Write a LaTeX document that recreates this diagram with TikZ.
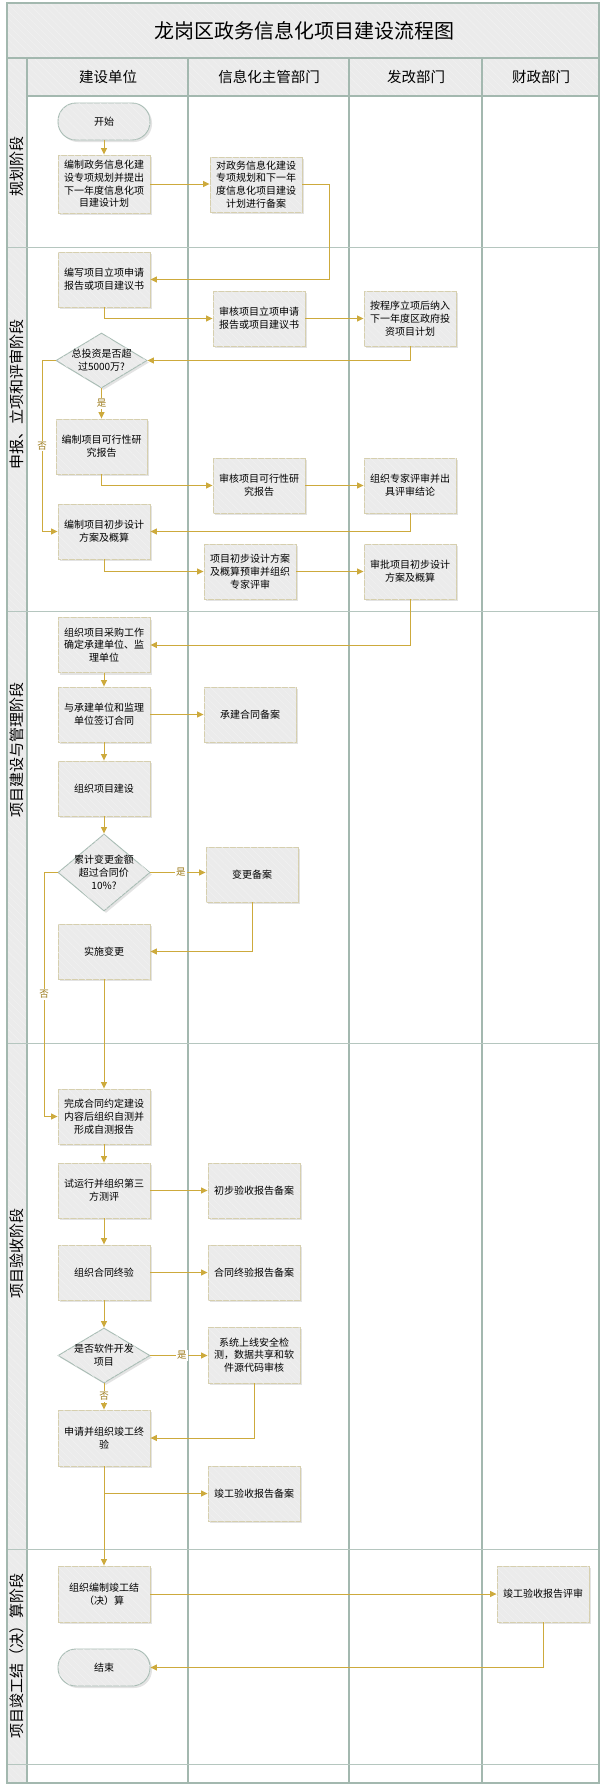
\documentclass[tikz,border=0pt]{standalone}
\usepackage{fontspec}
\setmainfont{Noto Sans CJK SC}
\usetikzlibrary{arrows.meta,shapes.geometric,shadows,patterns.meta}
\definecolor{framec}{HTML}{A3B8AF}
\definecolor{headfill}{HTML}{EBEBEB}
\definecolor{boxfill}{HTML}{EBEBEB}
\definecolor{hatchc}{HTML}{F2F2F2}
\definecolor{boxdraw}{HTML}{D6CFAE}
\definecolor{termdraw}{HTML}{A9BDB5}
\definecolor{connc}{HTML}{CDAA3C}
\definecolor{labc}{HTML}{9C7A1A}
\newcommand\bxf{\fontsize{10}{12.7}\selectfont}
\newcommand\ynf{\fontsize{9.5}{11}\selectfont}
\begin{document}
\begin{tikzpicture}[x=1pt,y=-1pt,
  hatch/.style={postaction={pattern={Lines[angle=-45,distance=5pt,line width=0.4pt]},pattern color=hatchc}},
  shd/.style={drop shadow={shadow xshift=2pt,shadow yshift=-2pt,opacity=0.22}},
  box/.style={rectangle,draw=boxdraw,line width=0.9pt,fill=boxfill,minimum width=92pt,minimum height=55pt,inner sep=1pt,align=center,font=\bxf,shd,hatch},
  term/.style={rectangle,rounded corners=18pt,draw=termdraw,line width=0.9pt,fill=boxfill,minimum width=92pt,minimum height=37pt,font=\bxf,shd,hatch},
  dia/.style={diamond,draw=termdraw,line width=0.9pt,fill=boxfill,inner sep=0pt,shd,hatch},
  dtext/.style={align=center,font=\bxf,inner sep=0pt},
  conn/.style={draw=connc,line width=0.9pt,-{Triangle[length=6.5pt,width=6pt]}},
  yn/.style={font=\ynf,text=labc,fill=white,inner sep=1pt},
  frame/.style={draw=framec,line width=1.2pt},
  phase/.style={font=\fontsize{15}{18}\selectfont,rotate=90},
  head/.style={font=\fontsize{14.5}{17}\selectfont}]
\useasboundingbox (0,0) rectangle (606,1792);
% backgrounds
\fill[white] (7,3) rectangle (599,1783);
\path[fill=headfill,hatch] (7,3) rectangle (599,58);
\path[fill=headfill,hatch] (27,58) rectangle (599,96);
\path[fill=headfill,hatch] (7,58) rectangle (27,1783);
% grid
\draw[frame] (7,58) -- (599,58);
\draw[frame] (27,96) -- (599,96);
\draw[frame] (27,58) -- (27,1783);
\foreach \cx in {188,349,482} \draw[frame] (\cx,58) -- (\cx,1783);
\foreach \ry in {247,611,1043,1549,1764} \draw[frame,line width=1pt,draw=framec!80] (7,\ry) -- (599,\ry);
\draw[frame] (7,3) rectangle (599,1783);
% title and headers
\node[font=\fontsize{20}{24}\selectfont] (title) at (304,31) {龙岗区政务信息化项目建设流程图};
\node[head] (h1) at (108,77) {建设单位};
\node[head] (h2) at (269,77) {信息化主管部门};
\node[head] (h3) at (416,77) {发改部门};
\node[head] (h4) at (541,77) {财政部门};
\node[phase] (p1) at (17,166) {规划阶段};
\node[phase] (p2) at (17,394) {申报、立项和评审阶段};
\node[phase] (p3) at (17,750) {项目建设与管理阶段};
\node[phase] (p4) at (17,1253) {项目验收阶段};
\node[phase] (p5) at (17,1656) {项目竣工结（决）算阶段};
% nodes
\node[term] (start) at (104,121.5) {开始};
\node[box,minimum height=58pt] (b1) at (104,184) {编制政务信息化建\\设专项规划并提出\\下一年度信息化项\\目建设计划};
\node[box] (b2) at (256,184.5) {对政务信息化建设\\专项规划和下一年\\度信息化项目建设\\计划进行备案};
\node[box] (b3) at (104,279.5) {编写项目立项申请\\报告或项目建议书};
\node[box] (b4) at (259,318.5) {审核项目立项申请\\报告或项目建议书};
\node[box] (b5) at (410,318.5) {按程序立项后纳入\\下一年度区政府投\\资项目计划};
\node[dia,minimum width=91pt,minimum height=55pt] (d1) at (101.5,360.5) {};
\node[dtext] (d1t) at (d1) {总投资是否超\\过5000万?};
\node[box,minimum width=91pt] (b6) at (101.5,446.5) {编制项目可行性研\\究报告};
\node[box] (b7) at (259,485.5) {审核项目可行性研\\究报告};
\node[box] (b8) at (410,485.5) {组织专家评审并出\\具评审结论};
\node[box] (b9) at (104,531.5) {编制项目初步设计\\方案及概算};
\node[box] (b10) at (250,571.5) {项目初步设计方案\\及概算预审并组织\\专家评审};
\node[box] (b11) at (410,571.5) {审批项目初步设计\\方案及概算};
\node[box] (b12) at (104,645) {组织项目采购工作\\确定承建单位、监\\理单位};
\node[box] (b13) at (104,714.5) {与承建单位和监理\\单位签订合同};
\node[box] (b14) at (250,714.5) {承建合同备案};
\node[box] (b15) at (104,788.5) {组织项目建设};
\node[dia,minimum width=92pt,minimum height=77pt] (d2) at (104,872.5) {};
\node[dtext] (d2t) at (d2) {累计变更金额\\超过合同价\\10\%?};
\node[box] (b16) at (252,874.5) {变更备案};
\node[box] (b17) at (104,951.5) {实施变更};
\node[box] (b18) at (104,1116.5) {完成合同约定建设\\内容后组织自测并\\形成自测报告};
\node[box] (b19) at (104,1190.5) {试运行并组织第三\\方测评};
\node[box] (b20) at (254,1190.5) {初步验收报告备案};
\node[box] (b21) at (104,1272.5) {组织合同终验};
\node[box] (b22) at (254,1272.5) {合同终验报告备案};
\node[dia,minimum width=92pt,minimum height=55pt] (d3) at (104,1355.5) {};
\node[dtext] (d3t) at (d3) {是否软件开发\\项目};
\node[box,minimum height=56pt] (b23) at (254,1355) {系统上线安全检\\测，数据共享和软\\件源代码审核};
\node[box,minimum height=56pt] (b24) at (104,1438) {申请并组织竣工终\\验};
\node[box] (b25) at (254,1493.5) {竣工验收报告备案};
\node[box,minimum height=56pt] (b26) at (104,1594) {组织编制竣工结\\（决）算};
\node[box,minimum height=56pt] (b27) at (543,1594) {竣工验收报告评审};
\node[term] (end) at (104,1667.5) {结束};
% connectors
\draw[conn] (start) -- (b1);
\draw[conn] (b1.east) -- (b1.east -| b2.west);
\draw[conn] (b2.east) -- ++(27,0) |- (b3.east);
\draw[conn] (b3.south) |- (b4.west);
\draw[conn] (b4) -- (b5);
\draw[conn] (b5.south) |- (d1.east);
\draw[conn] (d1.south) -- node[yn]{是} (b6.north);
\coordinate (n1) at (42,360.5);
\draw[conn] (d1.west) -- (n1) |- node[yn,pos=0.25]{否} (b9.west);
\draw[conn] (b6.south) |- (b7.west);
\draw[conn] (b7) -- (b8);
\draw[conn] (b8.south) |- (b9.east);
\draw[conn] (b9.south) |- (b10.west);
\draw[conn] (b10) -- (b11);
\draw[conn] (b11.south) |- (b12.east);
\draw[conn] (b12) -- (b13);
\draw[conn] (b13) -- (b14);
\draw[conn] (b13) -- (b15);
\draw[conn] (b15) -- (d2);
\draw[conn] (d2.east) -- node[yn,pos=0.55]{是} (d2.east -| b16.west);
\draw[conn] (b16.south) |- (b17.east);
\coordinate (n2) at (44,872.5);
\draw[conn] (d2.west) -- (n2) |- node[yn,pos=0.25]{否} (b18.west);
\draw[conn] (b17) -- (b18);
\draw[conn] (b18) -- (b19);
\draw[conn] (b19) -- (b20);
\draw[conn] (b19) -- (b21);
\draw[conn] (b21) -- (b22);
\draw[conn] (b21) -- (d3);
\draw[conn] (d3.east) -- node[yn,pos=0.55]{是} (d3.east -| b23.west);
\draw[conn] (d3.south) -- node[yn]{否} (b24.north);
\draw[conn] (b23.south) |- (b24.east);
\draw[conn] (b24) -- (b26);
\coordinate (br) at (b24.south |- b25.west);
\draw[conn] (br) -- (b25.west);
\draw[conn] (b26.east) -- (b26.east -| b27.west);
\draw[conn] (b27.south) |- (end.east);
\end{tikzpicture}
\end{document}
